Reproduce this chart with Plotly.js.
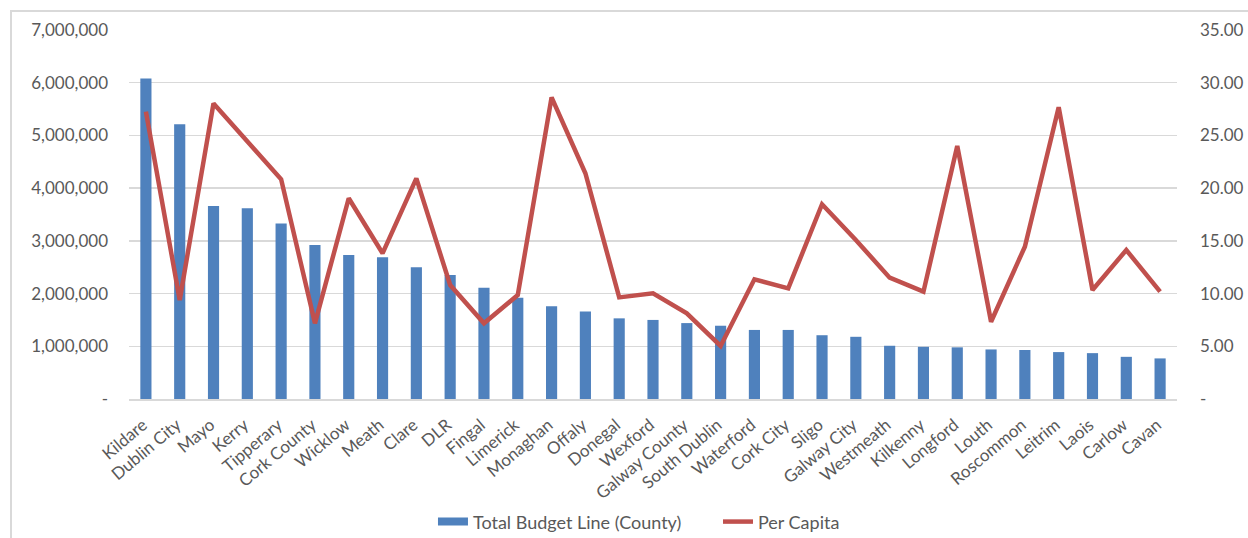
<!DOCTYPE html>
<html>
<head>
<meta charset="utf-8">
<script src="https://cdn.plot.ly/plotly-3.0.1.min.js"></script>
<style>
  html, body { margin: 0; padding: 0; background: #ffffff; }
  #wrap { position: relative; width: 1248px; height: 538px; overflow: hidden; }
  #chart { position: absolute; left: 0; top: 0; width: 1248px; height: 538px; }
  #frame { position: absolute; left: 10px; top: 10px; width: 1300px; height: 600px;
           border-left: 2px solid #d9d9d9; border-top: 2px solid #d9d9d9; pointer-events: none; }
</style>
</head>
<body>
<div id="wrap">
  <div id="chart"></div>
  <div id="frame"></div>
</div>
<script>
const categories = ["Kildare","Dublin City","Mayo","Kerry","Tipperary","Cork County","Wicklow","Meath","Clare","DLR","Fingal","Limerick","Monaghan","Offaly","Donegal","Wexford","Galway County","South Dublin","Waterford","Cork City","Sligo","Galway City","Westmeath","Kilkenny","Longford","Louth","Roscommon","Leitrim","Laois","Carlow","Cavan"];

const totalBudget = [6080000,5210000,3660000,3620000,3330000,2920000,2730000,2690000,2500000,2350000,2110000,1920000,1760000,1660000,1530000,1500000,1440000,1390000,1310000,1310000,1210000,1180000,1010000,990000,980000,940000,930000,890000,870000,800000,770000];

const perCapita = [27.25,9.39,28.04,24.5,20.84,7.18,19.04,13.82,20.93,10.81,7.18,9.86,28.61,21.41,9.64,10.02,8.13,5.03,11.35,10.50,18.47,15.08,11.51,10.18,24.0,7.33,14.45,27.67,10.34,14.13,10.18];

const leftTickVals = [0,1000000,2000000,3000000,4000000,5000000,6000000,7000000];
const leftTickText = ["-","1,000,000","2,000,000","3,000,000","4,000,000","5,000,000","6,000,000","7,000,000"];
const rightTickVals = [0,5,10,15,20,25,30,35];
const rightTickText = ["-","5.00","10.00","15.00","20.00","25.00","30.00","35.00"];

const seriesNames = ["Total Budget Line (County)", "Per Capita"];

const FONT = "Lato, 'Open Sans', sans-serif";
const GREY = "#595959";
const BLUE = "#4f81bd";
const RED = "#c0504d";

const traces = [
  {
    type: "bar",
    name: seriesNames[0],
    x: categories,
    y: totalBudget,
    marker: { color: BLUE },
    yaxis: "y",
    showlegend: false,
    legendgroup: "budget"
  },
  {
    // legend key only (wide rectangle, as in the original legend)
    type: "scatter",
    mode: "lines",
    name: seriesNames[0],
    x: [null],
    y: [null],
    line: { color: BLUE, width: 8 },
    yaxis: "y",
    legendgroup: "budget",
    showlegend: true
  },
  {
    type: "scatter",
    mode: "lines",
    name: seriesNames[1],
    x: categories,
    y: perCapita,
    line: { color: RED, width: 4.5 },
    yaxis: "y2"
  }
];

const layout = {
  width: 1248,
  height: 538,
  margin: { l: 129, r: 71, t: 30, b: 139, autoexpand: false },
  paper_bgcolor: "#ffffff",
  plot_bgcolor: "#ffffff",
  font: { family: FONT, color: GREY, size: 17 },
  showlegend: true,
  bargap: 0.67,
  xaxis: {
    type: "category",
    tickangle: -40,
    showgrid: false,
    showline: true,
    linecolor: "#d9d9d9",
    linewidth: 1.5,
    ticks: "",
    ticklabelstandoff: 8,
    ticklabelshift: -3,
    tickfont: { family: FONT, color: GREY, size: 17 },
    automargin: false
  },
  yaxis: {
    range: [0, 7000000],
    tickvals: leftTickVals,
    ticktext: leftTickText,
    showgrid: true,
    gridcolor: "#d9d9d9",
    gridwidth: 1.5,
    zeroline: false,
    showline: false,
    ticks: "",
    ticklabelstandoff: 20,
    tickfont: { family: FONT, color: GREY, size: 17 },
    automargin: false
  },
  yaxis2: {
    range: [0, 35],
    overlaying: "y",
    side: "right",
    tickvals: rightTickVals,
    ticktext: rightTickText,
    showgrid: false,
    zeroline: false,
    showline: false,
    ticks: "",
    ticklabelstandoff: 22,
    tickfont: { family: FONT, color: GREY, size: 17 },
    automargin: false
  },
  legend: {
    orientation: "h",
    x: 0.562,
    xanchor: "center",
    y: -0.333,
    yanchor: "middle",
    font: { family: FONT, color: GREY, size: 18 },
    entrywidth: 240,
    entrywidthmode: "pixels",
    traceorder: "normal"
  }
};

Plotly.newPlot("chart", traces, layout, { staticPlot: true, displayModeBar: false });
</script>
</body>
</html>
